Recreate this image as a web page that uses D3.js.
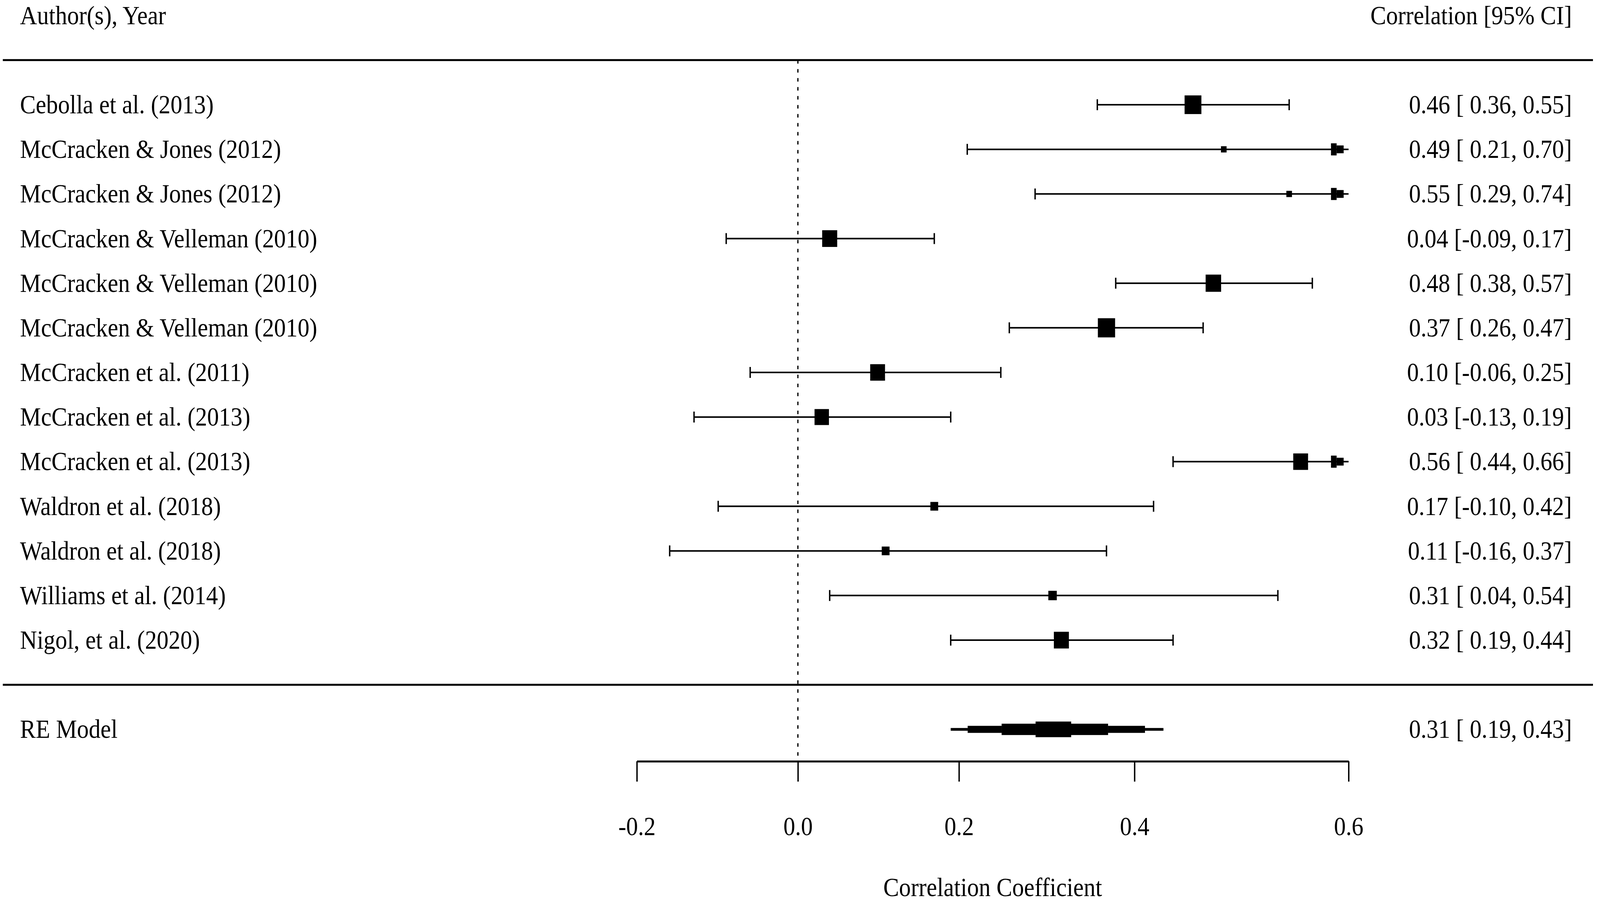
<!DOCTYPE html>
<html>
<head>
<meta charset="utf-8">
<script src="https://cdn.jsdelivr.net/npm/d3@7"></script>
<style>
  html, body { margin: 0; padding: 0; background: #fff; overflow: hidden; }
  svg { display: block; width: 100vw; height: 100vh; }
  text { font-family: "Liberation Serif", "Times New Roman", serif; white-space: pre; }
</style>
</head>
<body>
<div id="chart"></div>
<script>
var studies = ["Cebolla et al. (2013)", "McCracken & Jones (2012)", "McCracken & Jones (2012)",
  "McCracken & Velleman (2010)", "McCracken & Velleman (2010)", "McCracken & Velleman (2010)",
  "McCracken et al. (2011)", "McCracken et al. (2013)", "McCracken et al. (2013)",
  "Waldron et al. (2018)", "Waldron et al. (2018)", "Williams et al. (2014)", "Nigol, et al. (2020)"];
var estimates = [0.46, 0.49, 0.55, 0.04, 0.48, 0.37, 0.10, 0.03, 0.56, 0.17, 0.11, 0.31, 0.32];
var lower = [0.36, 0.21, 0.29, -0.09, 0.38, 0.26, -0.06, -0.13, 0.44, -0.10, -0.16, 0.04, 0.19];
var upper = [0.55, 0.70, 0.74, 0.17, 0.57, 0.47, 0.25, 0.19, 0.66, 0.42, 0.37, 0.54, 0.44];
// relative study weights (%)
var weights = [9.1, 4.0, 4.0, 8.3, 8.5, 9.3, 8.2, 8.0, 8.2, 5.0, 5.0, 5.3, 8.3];
var reModel = [0.31, 0.19, 0.43];   // estimate, lower, upper
var tickValues = [-0.2, 0.0, 0.2, 0.4, 0.6];

var W = 4550, H = 2326;
var fontSize = 67;
var lineW = 4;

var locale = d3.formatLocale({decimal: ".", thousands: ",", grouping: [3], currency: ["", ""], minus: "-"});
var f2 = locale.format(".2f"), f1 = locale.format(".1f");

// drawn in a fixed 4550x2326 space, stretched to fill the viewport
var svg = d3.select("#chart").append("svg")
  .attr("viewBox", "0 0 " + W + " " + H)
  .attr("preserveAspectRatio", "none");

// x is on the Fisher z scale, labels are back-transformed correlations
var x = d3.scaleLinear()
  .domain([Math.atanh(-0.2), Math.atanh(0.6)])
  .range([1811, 3835]);
var xMax = Math.atanh(0.6);

// rows: 1 = first study at the top
var y = d3.scaleLinear().domain([1, 13]).range([268, 1638]);
var yTopLine = y(0), yHeader = y(-1), ySep = y(14), yRE = y(15);
var yAxis = 1948;

var size = d3.scaleLinear().domain([d3.min(weights), d3.max(weights)]).range([16, 49]);

function textAt(str, tx, ty, anchor) {
  return svg.append("text")
    .attr("x", tx).attr("y", ty + 22)
    .attr("font-size", fontSize)
    .attr("text-anchor", anchor || "start")
    .text(str);
}

// header + separators
textAt("Author(s), Year", 57, yHeader);
textAt("Correlation [95% CI]", 4470, yHeader, "end");
[yTopLine, ySep].forEach(function(ly) {
  svg.append("line").attr("x1", 8).attr("x2", 4530).attr("y1", ly).attr("y2", ly)
    .attr("stroke", "#000").attr("stroke-width", 5);
});

// reference line at 0
svg.append("line")
  .attr("x1", x(0)).attr("x2", x(0)).attr("y1", yTopLine).attr("y2", yAxis)
  .attr("stroke", "#000").attr("stroke-width", 3.5)
  .attr("stroke-dasharray", "9,14");

var data = studies.map(function(s, i) {
  return {name: s, est: estimates[i], lb: lower[i], ub: upper[i], w: weights[i], row: i + 1};
});

var lbHasNeg = d3.min(lower.concat([reModel[1]])) < 0;
function label(est, lb, ub) {
  var l = f2(lb);
  if (lbHasNeg && lb >= 0) l = " " + l;
  return f2(est) + " [" + l + ", " + f2(ub) + "]";
}

var rows = svg.selectAll("g.study")
  .data(data)
  .enter()
  .append("g")
  .attr("class", "study")
  .attr("transform", function(d) { return "translate(0," + y(d.row) + ")"; });

rows.append("line")
  .attr("x1", function(d) { return x(Math.atanh(d.lb)); })
  .attr("x2", function(d) { return x(Math.min(Math.atanh(d.ub), xMax)); })
  .attr("stroke", "#000").attr("stroke-width", lineW);

// lower cap
rows.append("line")
  .attr("x1", function(d) { return x(Math.atanh(d.lb)); })
  .attr("x2", function(d) { return x(Math.atanh(d.lb)); })
  .attr("y1", -14).attr("y2", 14)
  .attr("stroke", "#000").attr("stroke-width", lineW);

// upper cap, or an arrow when the CI runs past the axis limit
rows.each(function(d) {
  var g = d3.select(this);
  if (Math.atanh(d.ub) <= xMax) {
    var ux = x(Math.atanh(d.ub));
    g.append("line").attr("x1", ux).attr("x2", ux).attr("y1", -14).attr("y2", 14)
      .attr("stroke", "#000").attr("stroke-width", lineW);
  } else {
    var tip = x(xMax);
    var steps = [[50, 34, 31], [34, 14, 20]];
    steps.forEach(function(s) {
      g.append("rect").attr("x", tip - s[0]).attr("width", s[0] - s[1])
        .attr("y", -s[2] / 2).attr("height", s[2]).attr("fill", "#000");
    });
  }
});

rows.append("rect")
  .attr("x", function(d) { return x(Math.atanh(d.est)) - size(d.w) / 2; })
  .attr("y", function(d) { return -size(d.w) / 2; })
  .attr("width", function(d) { return size(d.w); })
  .attr("height", function(d) { return size(d.w); })
  .attr("fill", "#000");

rows.append("text")
  .attr("x", 57).attr("y", 22)
  .attr("font-size", fontSize)
  .text(function(d) { return d.name; });

rows.append("text")
  .attr("x", 4470).attr("y", 22)
  .attr("font-size", fontSize)
  .attr("text-anchor", "end")
  .text(function(d) { return label(d.est, d.lb, d.ub); });

// RE model summary, drawn as a stepped diamond
textAt("RE Model", 57, yRE);
textAt(label(reModel[0], reModel[1], reModel[2]), 4470, yRE, "end");

var zc = Math.atanh(reModel[0]), zl = Math.atanh(reModel[1]), zu = Math.atanh(reModel[2]);
var bands = [[-1 / 6, 1 / 6], [1 / 6, 1 / 2], [1 / 2, 5 / 6], [5 / 6, 1]];
var blocks = [];
bands.forEach(function(b, i) {
  var hgt = Math.max(7, 7 + 33 * (1 - (b[0] + b[1]) / 2) - (i == 3 ? 3 : 0));
  if (i == 0) {
    blocks.push({a: zc - b[1] * (zc - zl), b: zc + b[1] * (zu - zc), h: hgt});
  } else {
    blocks.push({a: zc - b[1] * (zc - zl), b: zc - b[0] * (zc - zl), h: hgt});
    blocks.push({a: zc + b[0] * (zu - zc), b: zc + b[1] * (zu - zc), h: hgt});
  }
});
svg.append("g").selectAll("rect")
  .data(blocks)
  .enter()
  .append("rect")
  .attr("x", function(d) { return x(d.a); })
  .attr("width", function(d) { return x(d.b) - x(d.a) + 0.5; })
  .attr("y", function(d) { return yRE - d.h / 2; })
  .attr("height", function(d) { return d.h; })
  .attr("fill", "#000");

// axis
var axis = d3.axisBottom(x)
  .tickValues(tickValues.map(function(t) { return Math.atanh(t); }))
  .tickFormat(function(z) { return f1(Math.tanh(z)); })
  .tickSize(52)
  .tickSizeOuter(0);

var ax = svg.append("g")
  .attr("transform", "translate(0," + yAxis + ")")
  .call(axis);
ax.select(".domain").attr("stroke-width", 5);
ax.selectAll(".tick line").attr("stroke-width", lineW);
ax.selectAll(".tick text")
  .attr("font-family", null)
  .attr("font-size", fontSize)
  .attr("fill", "#000")
  .attr("y", 189).attr("dy", 0);

svg.append("text")
  .attr("x", (x.range()[0] + x.range()[1]) / 2)
  .attr("y", 2271 + 22)
  .attr("font-size", fontSize)
  .attr("text-anchor", "middle")
  .text("Correlation Coefficient");
</script>
</body>
</html>
